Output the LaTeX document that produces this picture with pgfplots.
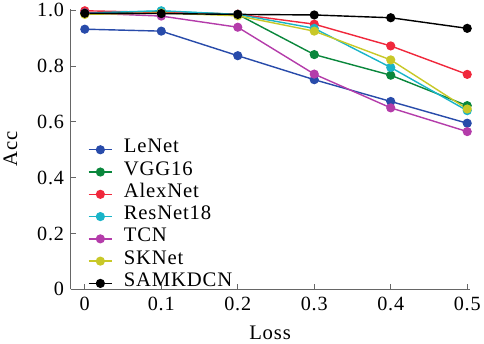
\documentclass[border=0pt]{standalone}
\usepackage{pgfplots}
\pgfplotsset{compat=1.18}
\usepackage{fontspec}
\setmainfont{Liberation Serif}
\newfontfamily\wideserif[LetterSpace=4]{Liberation Serif}
\definecolor{cLe}{RGB}{40,75,170}
\definecolor{cVGG}{RGB}{10,135,60}
\definecolor{cAlex}{RGB}{240,40,60}
\definecolor{cRes}{RGB}{25,180,200}
\definecolor{cTCN}{RGB}{180,60,170}
\definecolor{cSK}{RGB}{200,200,40}
\begin{document}
\begin{tikzpicture}
\begin{axis}[
  scale only axis, width=394bp, height=277bp,
  xmin=-0.0185, xmax=0.503, ymin=0, ymax=1.005,
  axis x line*=bottom, axis y line*=left,
  axis line style={draw=black!60, line width=0.8pt},
  tick style={draw=black!60, line width=0.8pt},
  tick align=inside, major tick length=5bp,
  xtick={0,0.1,0.2,0.3,0.4,0.5},
  xticklabels={\mbox{0},\mbox{0.1},\mbox{0.2},\mbox{0.3},\mbox{0.4},\mbox{0.5}},
  ytick={0,0.2,0.4,0.6,0.8,1.0},
  yticklabels={\mbox{0},\mbox{0.2},\mbox{0.4},\mbox{0.6},\mbox{0.8},\mbox{1.0}},
  ticklabel style={font=\wideserif\fontsize{20}{22}\selectfont},
  xticklabel style={yshift=-4bp},
  yticklabel style={xshift=-3bp},
  label style={font=\wideserif\fontsize{20.5}{22}\selectfont},
  xlabel={Loss}, ylabel={Acc},
  xlabel style={at={(axis description cs:0.5,-0.12)}, anchor=north},
  ylabel style={at={(axis description cs:-0.125,0.5)}, anchor=south},
  legend style={at={(0.0355,0.545)}, anchor=north west, draw=none, fill=none,
    font=\wideserif\fontsize{20.5}{22}\selectfont, row sep=0pt, column sep=0pt,
    nodes={inner sep=0pt, text height=14bp, text depth=8bp, inner xsep=2bp}},
  legend cell align=left,
  legend image code/.code={\draw[mark repeat=2,mark phase=2] plot coordinates {(0bp,0bp)(11.5bp,0bp)(23bp,0bp)};},
  every axis plot/.append style={line width=1.4pt, mark=*, mark size=3.8bp},
]
\addplot[color=cLe, mark options={fill=cLe}] coordinates {(0,0.932)(0.1,0.925)(0.2,0.837)(0.3,0.751)(0.4,0.673)(0.5,0.595)};
\addlegendentry{\hspace{9bp}LeNet}
\addplot[color=cVGG, mark options={fill=cVGG}] coordinates {(0,0.990)(0.1,0.996)(0.2,0.985)(0.3,0.841)(0.4,0.767)(0.5,0.658)};
\addlegendentry{\hspace{9bp}VGG16}
\addplot[color=cAlex, mark options={fill=cAlex}] coordinates {(0,0.998)(0.1,0.992)(0.2,0.986)(0.3,0.950)(0.4,0.872)(0.5,0.770)};
\addlegendentry{\hspace{9bp}AlexNet}
\addplot[color=cRes, mark options={fill=cRes}] coordinates {(0,0.990)(0.1,0.998)(0.2,0.985)(0.3,0.935)(0.4,0.795)(0.5,0.640)};
\addlegendentry{\hspace{9bp}ResNet18}
\addplot[color=cTCN, mark options={fill=cTCN}] coordinates {(0,0.990)(0.1,0.979)(0.2,0.939)(0.3,0.771)(0.4,0.650)(0.5,0.565)};
\addlegendentry{\hspace{9bp}TCN}
\addplot[color=cSK, mark options={fill=cSK}] coordinates {(0,0.985)(0.1,0.990)(0.2,0.980)(0.3,0.925)(0.4,0.822)(0.5,0.646)};
\addlegendentry{\hspace{9bp}SKNet}
\addplot[color=black, mark options={fill=black}] coordinates {(0,0.989)(0.1,0.988)(0.2,0.985)(0.3,0.983)(0.4,0.973)(0.5,0.935)};
\addlegendentry{\hspace{9bp}SAMKDCN}
\end{axis}
\end{tikzpicture}
\end{document}
